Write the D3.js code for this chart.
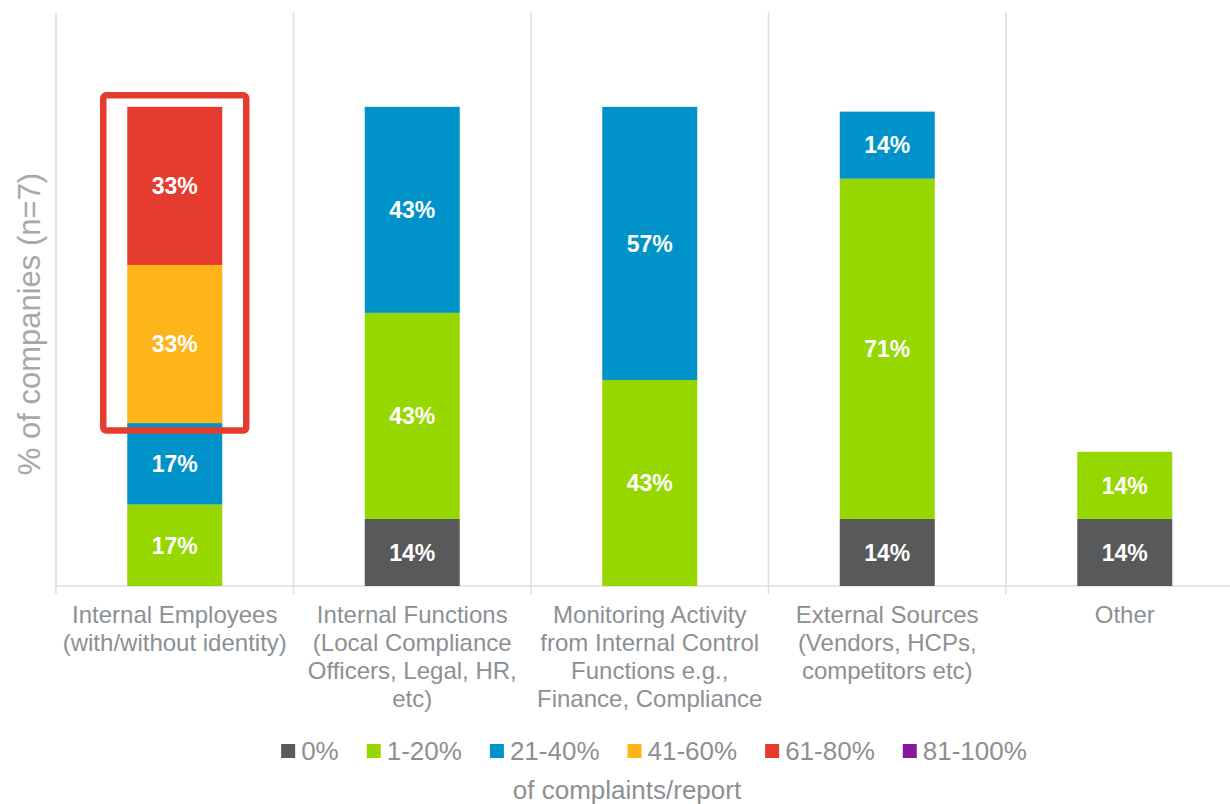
<!DOCTYPE html>
<html>
<head>
<meta charset="utf-8">
<script src="https://cdn.jsdelivr.net/npm/d3@7"></script>
<style>
  html, body { margin: 0; padding: 0; background: #ffffff; }
  svg { display: block; font-family: "Liberation Sans", Arial, sans-serif; }
</style>
</head>
<body>
<svg id="chart" width="1230" height="804"></svg>
<script>
// Source of complaints / reports, share of companies per band
const categories = [
  "Internal Employees",
  "Internal Functions",
  "Monitoring Activity",
  "External Sources",
  "Other"
];
const categoryLabels = [
  ["Internal Employees", "(with/without identity)"],
  ["Internal Functions", "(Local Compliance", "Officers, Legal, HR,", "etc)"],
  ["Monitoring Activity", "from Internal Control", "Functions e.g.,", "Finance, Compliance"],
  ["External Sources", "(Vendors, HCPs,", "competitors etc)"],
  ["Other"]
];
const seriesNames = ["0%", "1-20%", "21-40%", "41-60%", "61-80%", "81-100%"];
const seriesColors = ["#58595b", "#97d700", "#0093c9", "#fdb51a", "#e53c2f", "#87189d"];

// values per band, in category order
const band0 = [0, 14, 0, 14, 14];
const band1to20 = [17, 43, 43, 71, 14];
const band21to40 = [17, 43, 57, 14, 0];
const band41to60 = [33, 0, 0, 0, 0];
const band61to80 = [33, 0, 0, 0, 0];
const band81to100 = [0, 0, 0, 0, 0];

const yMax = 120;
const yTitle = "% of companies (n=7)";
const legendTitle = "of complaints/report";
const highlightIndex = 0;

const seriesValues = [band0, band1to20, band21to40, band41to60, band61to80, band81to100];
const rows = categories.map((c, i) => {
  const r = { category: c };
  seriesNames.forEach((s, k) => { r[s] = seriesValues[k][i]; });
  return r;
});

const svg = d3.select("#chart");
const margin = { left: 56, top: 11, bottom: 586 };
const bandW = 237.5;

const x = d3.scaleBand()
  .domain(categories)
  .range([margin.left, margin.left + bandW * categories.length])
  .padding(0);
const y = d3.scaleLinear().domain([0, yMax]).range([margin.bottom, margin.top]);
const color = d3.scaleOrdinal().domain(seriesNames).range(seriesColors);
const barW = x.bandwidth() * 0.4;

const gridColor = "#dedede";
const textGray = "#8d9093";

// vertical category separators
const seps = d3.range(categories.length + 1).map(i => margin.left + i * x.bandwidth());
svg.append("g").selectAll("line").data(seps).join("line")
  .attr("x1", d => d).attr("x2", d => d)
  .attr("y1", y(yMax) + 1).attr("y2", y(0) + 8)
  .attr("stroke", gridColor).attr("stroke-width", 1.5);

// baseline
svg.append("line")
  .attr("x1", margin.left).attr("x2", 1230)
  .attr("y1", y(0)).attr("y2", y(0))
  .attr("stroke", gridColor).attr("stroke-width", 1.5);

// stacked bars
const stacked = d3.stack().keys(seriesNames)(rows);
const layers = svg.append("g").selectAll("g").data(stacked).join("g")
  .attr("fill", d => color(d.key));

layers.selectAll("rect").data(d => d.filter(s => s[1] > s[0])).join("rect")
  .attr("x", d => x(d.data.category) + (x.bandwidth() - barW) / 2)
  .attr("width", barW)
  .attr("y", d => y(d[1]))
  .attr("height", d => y(d[0]) - y(d[1]));

// value labels inside segments
layers.selectAll("text").data(d => d.filter(s => s[1] > s[0]).map(s => ({ s, key: d.key }))).join("text")
  .attr("x", d => x(d.s.data.category) + x.bandwidth() / 2)
  .attr("y", d => (y(d.s[0]) + y(d.s[1])) / 2)
  .attr("dy", "0.36em")
  .attr("text-anchor", "middle")
  .attr("fill", "#ffffff")
  .attr("font-weight", "bold")
  .attr("font-size", 23)
  .text(d => d.s.data[d.key] + "%");

// highlight frame around the upper segments of the first bar
const hl = rows[highlightIndex];
const hlTop = y(d3.sum(seriesNames, s => hl[s]));
const hlBottom = y(hl["0%"] + hl["1-20%"] + hl["21-40%"]);
const hlX = x(hl.category) + (x.bandwidth() - barW) / 2;
svg.append("rect")
  .attr("x", hlX - 24)
  .attr("y", hlTop - 11.5)
  .attr("width", barW + 48)
  .attr("height", (hlBottom + 7.5) - (hlTop - 11.5))
  .attr("rx", 3)
  .attr("fill", "none")
  .attr("stroke", "#e53c2f")
  .attr("stroke-width", 6.5);

// category labels
const catG = svg.append("g").selectAll("text").data(categories).join("text")
  .attr("x", d => x(d) + x.bandwidth() / 2)
  .attr("y", 623)
  .attr("text-anchor", "middle")
  .attr("fill", textGray)
  .attr("font-size", 24);
catG.each(function (d, i) {
  const t = d3.select(this);
  categoryLabels[i].forEach((line, j) => {
    t.append("tspan")
      .attr("x", x(d) + x.bandwidth() / 2)
      .attr("dy", j === 0 ? 0 : 28)
      .text(line);
  });
});

// y-axis title
svg.append("text")
  .attr("transform", "translate(40,324) rotate(-90)")
  .attr("text-anchor", "middle")
  .attr("fill", "#a6a8ab")
  .attr("font-size", 31)
  .text(yTitle);

// legend
const legend = svg.append("g");
const items = legend.selectAll("g").data(seriesNames).join("g");
items.append("rect")
  .attr("width", 14).attr("height", 14)
  .attr("y", 744)
  .attr("fill", d => color(d));
items.append("text")
  .attr("x", 20)
  .attr("y", 760)
  .attr("fill", textGray)
  .attr("font-size", 26)
  .text(d => d);
let cursor = 0;
const offsets = [];
items.each(function () {
  const w = 20 + d3.select(this).select("text").node().getComputedTextLength();
  offsets.push(cursor);
  cursor += w + 28;
});
const totalW = cursor - 28;
const legendStart = 654 - totalW / 2;
items.attr("transform", (d, i) => `translate(${legendStart + offsets[i]},0)`);

svg.append("text")
  .attr("x", 627)
  .attr("y", 799)
  .attr("text-anchor", "middle")
  .attr("fill", textGray)
  .attr("font-size", 26)
  .text(legendTitle);
</script>
</body>
</html>
